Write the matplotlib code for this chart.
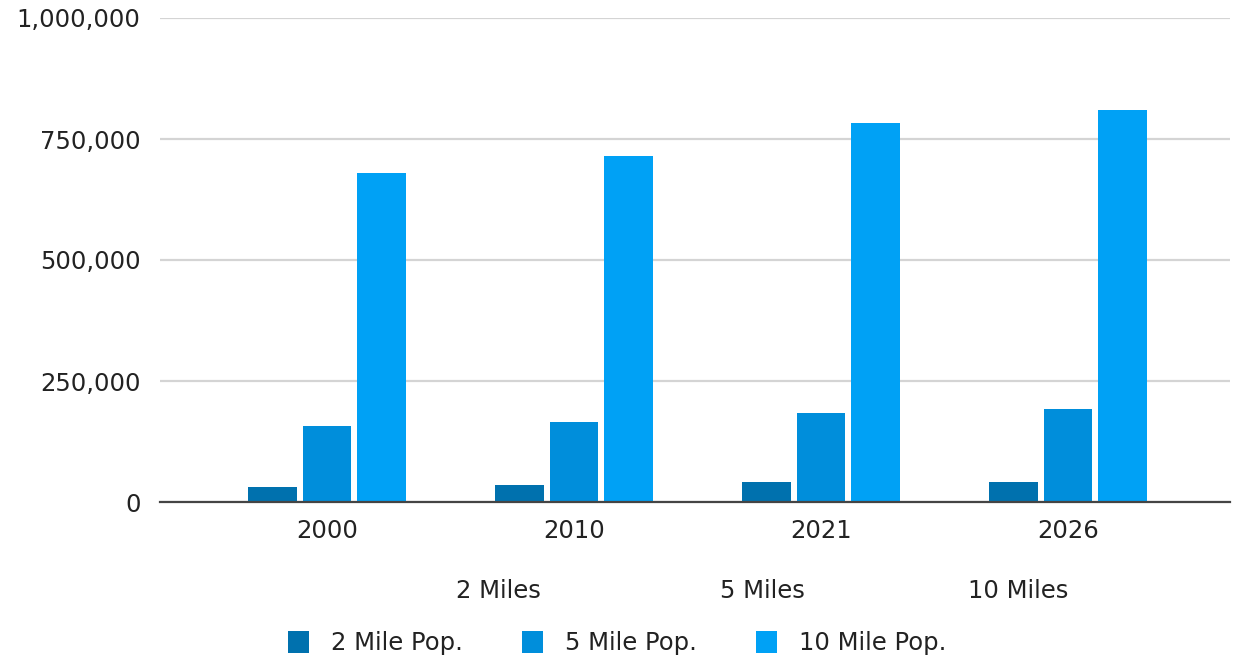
import matplotlib.pyplot as plt
from matplotlib.patches import Patch
from matplotlib.ticker import FuncFormatter
import numpy as np

years = ["2000", "2010", "2021", "2026"]
pop_2mi = [31000, 35000, 41000, 41000]
pop_5mi = [157000, 165000, 184000, 192000]
pop_10mi = [680000, 715000, 783000, 810000]

series_names = ["2 Mile Pop.", "5 Mile Pop.", "10 Mile Pop."]
colors = ["#0071ae", "#008edb", "#00a1f5"]
radius_labels = ["2 Miles", "5 Miles", "10 Miles"]

plt.rcParams["font.family"] = "DejaVu Sans"
FS = 17.5

fig = plt.figure(figsize=(12.41, 6.58), dpi=100)
ax = fig.add_axes([160 / 1241, 1 - 502 / 658, (1230 - 160) / 1241, (502 - 18) / 658])

x = np.arange(len(years))
step = 0.221
width = 0.198
for i, (vals, c) in enumerate(zip([pop_2mi, pop_5mi, pop_10mi], colors)):
    ax.bar(x + (i - 1) * step, vals, width=width, color=c, zorder=3)

ax.set_ylim(0, 1000000)
ax.set_xlim(-0.676, 3.656)
ax.set_yticks([0, 250000, 500000, 750000, 1000000])
ax.yaxis.set_major_formatter(FuncFormatter(lambda v, p: f"{int(v):,}"))
ax.set_xticks(x)
ax.set_xticklabels(years)
ax.tick_params(length=0, labelsize=FS, colors="#222222")
ax.tick_params(axis="y", pad=14)
ax.tick_params(axis="x", pad=12)
ax.grid(axis="y", color="#d4d4d4", linewidth=1.6, zorder=0)
for s in ["top", "right", "left"]:
    ax.spines[s].set_visible(False)
ax.spines["bottom"].set_color("#444444")
ax.spines["bottom"].set_linewidth(1.6)
ax.spines["bottom"].set_zorder(4)

for lbl, xp in zip(radius_labels, [498, 762, 1018]):
    fig.text(xp / 1241, 1 - 591 / 658, lbl, ha="center", va="center",
             fontsize=FS, color="#222222")

handles = [Patch(facecolor=c, label=n) for n, c in zip(series_names, colors)]
fig.legend(handles=handles, loc="center", bbox_to_anchor=(617 / 1241, 1 - 643 / 658),
           ncol=3, frameon=False, fontsize=FS, handlelength=0.85, handleheight=1.0,
           columnspacing=2.45, handletextpad=0.9, labelcolor="#222222")

fig.savefig("out.png", dpi=100)
